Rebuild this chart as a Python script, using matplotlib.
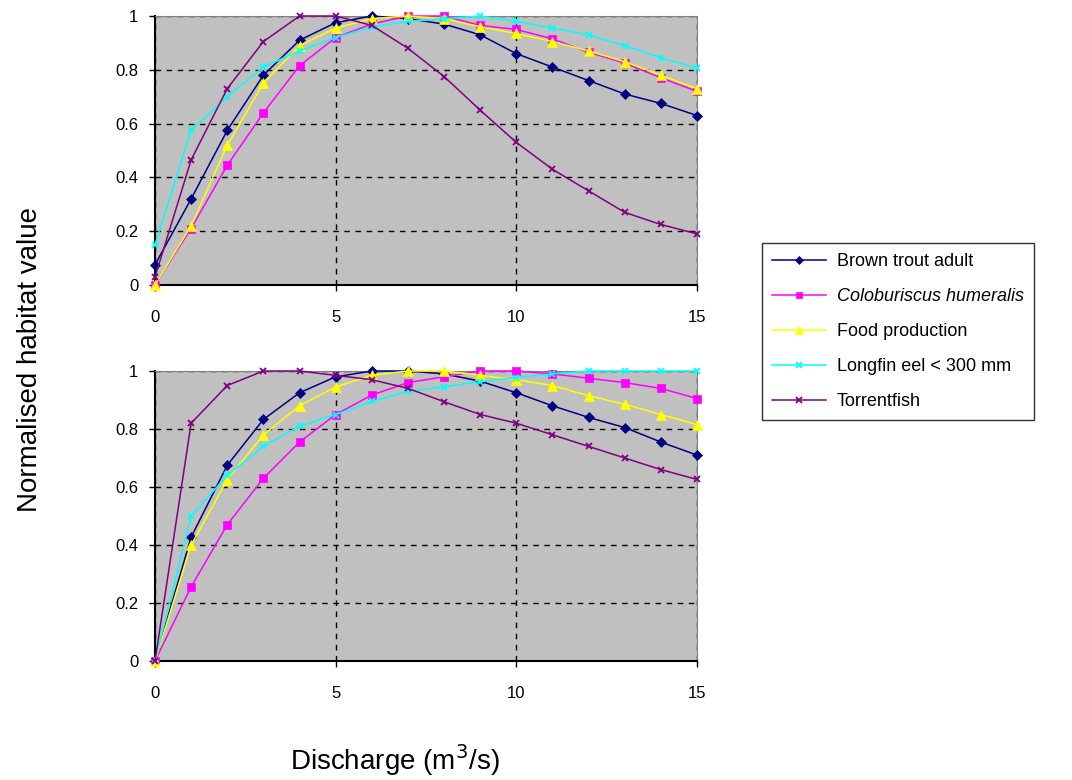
import matplotlib
matplotlib.use("Agg")
import matplotlib.pyplot as plt
import numpy as np

plt.rcParams['font.family'] = ['Liberation Sans', 'DejaVu Sans']

discharge = list(range(16))
series_names = ["Brown trout adult", "Coloburiscus humeralis", "Food production",
                "Longfin eel < 300 mm", "Torrentfish"]

# Top panel
top_brown = [0.075, 0.32, 0.575, 0.78, 0.91, 0.975, 1.0, 0.99, 0.97, 0.93, 0.86, 0.81, 0.76, 0.71, 0.675, 0.63]
top_colob = [0.0, 0.21, 0.445, 0.64, 0.815, 0.92, 0.97, 1.0, 1.0, 0.965, 0.95, 0.915, 0.865, 0.825, 0.77, 0.72]
top_food = [0.0, 0.22, 0.52, 0.75, 0.89, 0.955, 0.99, 1.0, 0.99, 0.96, 0.935, 0.905, 0.87, 0.83, 0.78, 0.73]
top_eel = [0.15, 0.575, 0.70, 0.81, 0.87, 0.92, 0.96, 0.98, 0.99, 1.0, 0.98, 0.955, 0.93, 0.89, 0.845, 0.805]
top_torrent = [0.03, 0.465, 0.73, 0.905, 1.0, 1.0, 0.965, 0.88, 0.775, 0.65, 0.53, 0.43, 0.35, 0.27, 0.225, 0.19]

# Bottom panel
bot_brown = [0.0, 0.427, 0.675, 0.833, 0.925, 0.98, 1.0, 1.0, 0.99, 0.965, 0.925, 0.88, 0.84, 0.805, 0.755, 0.71]
bot_colob = [0.0, 0.256, 0.47, 0.63, 0.755, 0.85, 0.917, 0.96, 0.98, 1.0, 1.0, 0.99, 0.975, 0.96, 0.94, 0.905]
bot_food = [0.0, 0.40, 0.625, 0.78, 0.88, 0.945, 0.985, 1.0, 1.0, 0.985, 0.97, 0.95, 0.915, 0.885, 0.85, 0.815]
bot_eel = [0.0, 0.50, 0.64, 0.74, 0.81, 0.85, 0.895, 0.93, 0.946, 0.963, 0.977, 0.99, 1.0, 1.0, 1.0, 1.0]
bot_torrent = [0.0, 0.82, 0.95, 1.0, 1.0, 0.985, 0.97, 0.94, 0.894, 0.85, 0.82, 0.78, 0.74, 0.70, 0.66, 0.626]

colors = ["#000080", "#FF00FF", "#FFFF00", "#00FFFF", "#800080"]
markers = ["D", "s", "^", "x", "x"]
msizes = [5, 6, 7, 5, 5]

fig = plt.figure(figsize=(10.72, 7.8), dpi=100)
ax_top = fig.add_axes([155/1072, 1-285/780, 542/1072, 269/780])
ax_bot = fig.add_axes([155/1072, 1-661/780, 542/1072, 290/780])

panels = [(ax_top, [top_brown, top_colob, top_food, top_eel, top_torrent]),
          (ax_bot, [bot_brown, bot_colob, bot_food, bot_eel, bot_torrent])]

handles = []
for ax, data in panels:
    ax.set_facecolor("#C0C0C0")
    handles = []
    for vals, c, m, ms, name in zip(data, colors, markers, msizes, series_names):
        h, = ax.plot(discharge, vals, color=c, marker=m, markersize=ms, linewidth=1.1,
                     markeredgewidth=1.3 if m == "x" else 0.5, label=name, clip_on=False, zorder=3)
        handles.append(h)
    ax.set_xlim(0, 15)
    ax.set_ylim(0, 1)
    ax.set_xticks([0, 5, 10, 15])
    ax.set_yticks([0, 0.2, 0.4, 0.6, 0.8, 1.0])
    ax.set_yticklabels(["0", "0.2", "0.4", "0.6", "0.8", "1"])
    ax.tick_params(axis='both', labelsize=12, length=4, width=1, direction='out')
    ax.tick_params(axis='x', pad=14)
    ax.tick_params(axis='y', pad=8)
    ax.grid(True, color="black", linestyle=(0, (4, 4)), linewidth=1.0, zorder=1)
    ax.set_axisbelow(True)
    for s in ["left", "bottom"]:
        ax.spines[s].set_color("black")
        ax.spines[s].set_linewidth(1.5)
    for s in ["top", "right"]:
        ax.spines[s].set_color("#808080")
        ax.spines[s].set_linewidth(0.8)

fig.text(30/1072, 1-360/780, "Normalised habitat value", rotation=90, fontsize=20,
         ha="center", va="center")
fig.text(395/1072, 1-760/780, "Discharge (m$^3$/s)", fontsize=20, ha="center", va="center")

leg = fig.legend(handles=handles, labels=series_names, loc="upper left",
                 bbox_to_anchor=(762/1072, 1-243/780), fontsize=13, frameon=True,
                 fancybox=False, edgecolor="black", handlelength=3.0, labelspacing=1.0,
                 borderpad=0.55, handletextpad=0.6, borderaxespad=0, markerscale=0.8)
leg.get_frame().set_linewidth(1.0)
leg.get_texts()[1].set_style("italic")

fig.savefig("out.png", dpi=100)
